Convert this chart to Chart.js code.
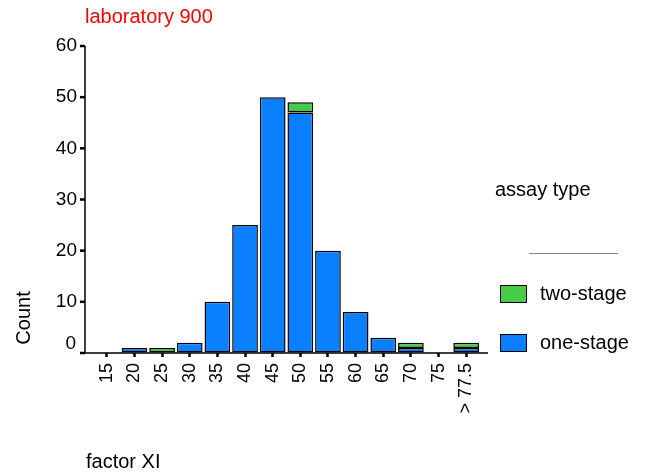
<!DOCTYPE html>
<html>
<head>
<meta charset="utf-8">
<title>factor XI</title>
<script src="https://cdn.jsdelivr.net/npm/chart.js@4/dist/chart.umd.min.js"></script>
<style>
  html, body { margin: 0; padding: 0; background: #fff; }
  #wrap { width: 646px; height: 475px; position: relative; }
</style>
</head>
<body>
<div id="wrap"><canvas id="factorChart" width="646" height="475"></canvas></div>
<script>
const categories = ['15', '20', '25', '30', '35', '40', '45', '50', '55', '60', '65', '70', '75', '> 77.5'];
const oneStage = [0, 1, 0, 2, 10, 25, 50, 47, 20, 8, 3, 1, 0, 1];
const twoStage = [0, 0, 1, 0, 0, 0, 0, 2, 0, 0, 0, 1, 0, 1];
const seriesNames = ['one-stage', 'two-stage'];
const seriesColors = ['#0a80ff', '#46cc46'];

const FONT = 'Liberation Sans, Arial, Helvetica, sans-serif';
const AXIS_GAP = 8; // axis lines stand a little outside the bar band

// axis lines, titles and the right-hand legend
const annotations = {
  id: 'annotations',
  afterDraw(chart) {
    const { ctx, chartArea, scales } = chart;
    const x0 = chartArea.left - AXIS_GAP;
    const x1 = chartArea.right + AXIS_GAP;
    const yBase = scales.y.getPixelForValue(0);
    ctx.save();

    // axes
    ctx.strokeStyle = '#000';
    ctx.lineWidth = 1.5;
    ctx.beginPath();
    ctx.moveTo(x0, chartArea.top);
    ctx.lineTo(x0, yBase);
    ctx.lineTo(x1, yBase);
    ctx.stroke();
    ctx.lineWidth = 2.5;
    scales.y.ticks.forEach(t => {
      const y = scales.y.getPixelForValue(t.value);
      ctx.beginPath();
      ctx.moveTo(x0 - 5, y);
      ctx.lineTo(x0, y);
      ctx.stroke();
    });

    ctx.textBaseline = 'middle';
    ctx.fillStyle = '#ff0000';
    ctx.font = '20px ' + FONT;
    ctx.textAlign = 'left';
    ctx.fillText('laboratory 900', x0, 17);

    ctx.fillStyle = '#000';
    ctx.fillText('factor XI', x0 + 1, 462);

    ctx.save();
    ctx.translate(24, 318);
    ctx.rotate(-Math.PI / 2);
    ctx.textAlign = 'center';
    ctx.fillText('Count', 0, 0);
    ctx.restore();

    // zero label sits a little above the baseline
    ctx.font = '19px ' + FONT;
    ctx.textAlign = 'right';
    ctx.fillText('0', x0 - 9, yBase - 9);

    // legend
    ctx.font = '20px ' + FONT;
    ctx.textAlign = 'left';
    ctx.fillText('assay type', 495, 190);
    ctx.strokeStyle = '#888';
    ctx.lineWidth = 1;
    ctx.beginPath();
    ctx.moveTo(529, 253.5);
    ctx.lineTo(618, 253.5);
    ctx.stroke();

    const items = chart.data.datasets.slice().reverse();
    items.forEach((ds, i) => {
      const y = 285 + i * 49;
      ctx.fillStyle = ds.backgroundColor;
      ctx.fillRect(500, y, 27, 18);
      ctx.strokeStyle = '#000';
      ctx.strokeRect(500.5, y + 0.5, 26, 17);
      ctx.fillStyle = '#000';
      ctx.fillText(ds.label, 540, y + 9);
    });
    ctx.restore();
  }
};

new Chart(document.getElementById('factorChart'), {
  type: 'bar',
  data: {
    labels: categories,
    datasets: [
      {
        label: seriesNames[0],
        data: oneStage,
        backgroundColor: seriesColors[0],
        borderColor: '#000',
        borderWidth: 1.5,
        borderSkipped: false
      },
      {
        label: seriesNames[1],
        data: twoStage,
        backgroundColor: seriesColors[1],
        borderColor: '#000',
        borderWidth: 1.5,
        borderSkipped: false
      }
    ]
  },
  options: {
    responsive: false,
    animation: false,
    layout: { padding: { left: 0, top: 46, right: 166, bottom: 0 } },
    datasets: { bar: { barPercentage: 0.93, categoryPercentage: 1 } },
    plugins: {
      legend: { display: false },
      tooltip: { enabled: false }
    },
    scales: {
      x: {
        stacked: true,
        afterFit: s => { s.height = 122; },
        grid: { display: true, offset: false, drawOnChartArea: false, tickLength: 4, tickWidth: 2.5, tickColor: '#000' },
        border: { display: false },
        ticks: {
          color: '#000',
          font: { family: FONT, size: 18 },
          minRotation: 90,
          maxRotation: 90,
          autoSkip: false,
          padding: 6
        }
      },
      y: {
        stacked: true,
        min: 0,
        max: 60,
        afterFit: s => { s.width = 93; },
        grid: { display: true, drawOnChartArea: false, tickLength: 5, tickColor: 'rgba(0,0,0,0)' },
        border: { display: false },
        ticks: {
          stepSize: 10,
          color: '#000',
          font: { family: FONT, size: 19 },
          padding: 11,
          callback: v => (v === 0 ? '' : v)
        }
      }
    }
  },
  plugins: [annotations]
});
</script>
</body>
</html>
